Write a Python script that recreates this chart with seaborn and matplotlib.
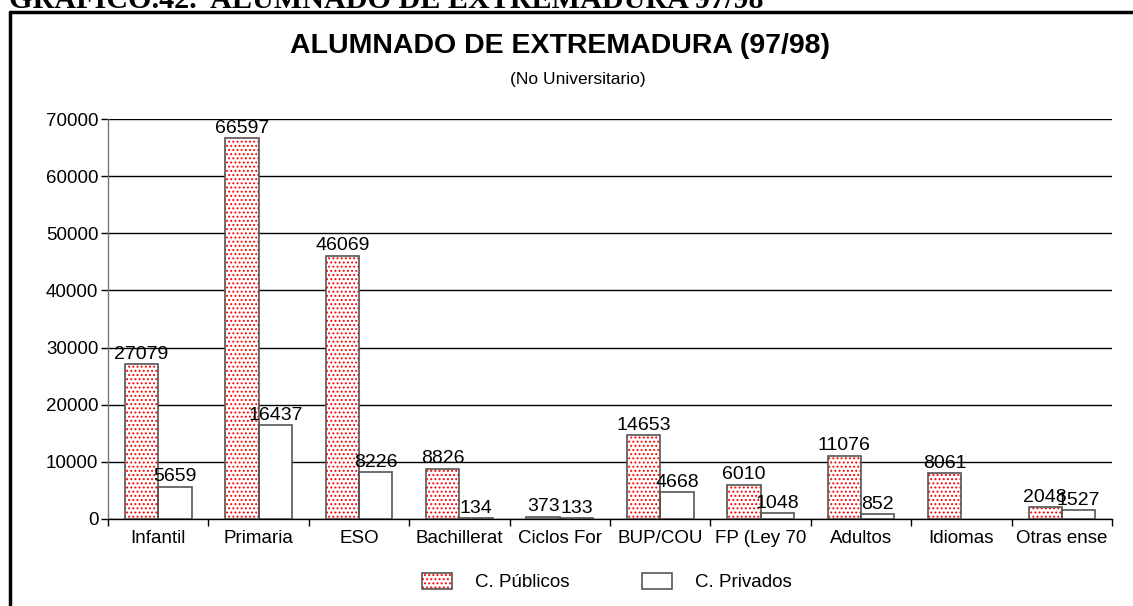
import matplotlib
matplotlib.use("Agg")
import matplotlib.pyplot as plt
from matplotlib.lines import Line2D
from matplotlib.patches import Patch
import numpy as np
import pandas as pd
import seaborn as sns

# Enrolment by level, 1997/98, non-university education in Extremadura
categories = ["Infantil", "Primaria", "ESO", "Bachillerat", "Ciclos For",
              "BUP/COU", "FP (Ley 70", "Adultos", "Idiomas", "Otras ense"]
publicos = [27079, 66597, 46069, 8826, 373, 14653, 6010, 11076, 8061, 2048]
privados = [5659, 16437, 8226, 134, 133, 4668, 1048, 852, np.nan, 1527]
series = ["C. Públicos", "C. Privados"]
yticks = list(range(0, 70001, 10000))

df = pd.DataFrame({
    "nivel": categories * 2,
    "centro": [series[0]] * len(categories) + [series[1]] * len(categories),
    "alumnos": publicos + privados,
}).dropna()

sns.set_theme(style="white")
plt.rcParams["font.family"] = ["Liberation Sans", "DejaVu Sans"]
plt.rcParams["hatch.linewidth"] = 0.9
for key in ["text.color", "axes.labelcolor", "xtick.color", "ytick.color"]:
    plt.rcParams[key] = "black"

FS = 13.5

fig = plt.figure(figsize=(11.33, 6.06), dpi=100)
ax = fig.add_axes([0.0953, 0.1436, 0.8862, 0.66])

edge = "#555555"
# dotted red fill for public centres (hatch only)
sns.barplot(data=df, x="nivel", y="alumnos", hue="centro", order=categories,
            hue_order=series, palette={series[0]: "white", series[1]: "white"},
            width=0.664, errorbar=None, legend=False, ax=ax, zorder=2,
            linewidth=0, edgecolor="red", saturation=1)
for bar in ax.containers[0]:
    bar.set_hatch("....")
    bar.set_edgecolor("red")
    bar.set_linewidth(0)
# outlines for all bars
sns.barplot(data=df, x="nivel", y="alumnos", hue="centro", order=categories,
            hue_order=series, fill=False, width=0.664, errorbar=None,
            legend=False, ax=ax, zorder=3, linewidth=1.2, edgecolor=edge)

for cont in ax.containers[2:4]:
    ax.bar_label(cont, labels=[f"{int(b.get_height())}" for b in cont],
                 padding=1, fontsize=14, color="black", zorder=4)

ax.set_ylim(0, 70000)
ax.set_xlim(-0.5, len(categories) - 0.5)
ax.set_yticks(yticks)
ax.set_yticklabels([str(v) for v in yticks], fontsize=FS)
ax.set_xticks(range(len(categories)))
ax.set_xticklabels(categories, fontsize=FS)
ax.set_xticks(np.arange(-0.5, len(categories)), minor=True)
ax.tick_params(axis="x", which="major", length=0, pad=8)
ax.tick_params(axis="x", which="minor", length=5, width=1, color="black",
               direction="out", bottom=True)
ax.tick_params(axis="y", length=5, width=1, color="black", direction="out",
               left=True, pad=2)
ax.set_xlabel("")
ax.set_ylabel("")
ax.yaxis.grid(True, color="black", linewidth=1)
ax.set_axisbelow(True)
for side in ["top", "right"]:
    ax.spines[side].set_visible(False)
ax.spines["left"].set_color("#777777")
ax.spines["bottom"].set_color("black")
ax.spines["left"].set_linewidth(1)
ax.spines["bottom"].set_linewidth(1)

# legend
pub_patch = Patch(facecolor="white", edgecolor="red", hatch="....", linewidth=0)
pub_outline = Patch(facecolor="none", edgecolor=edge, linewidth=1.2)
priv_patch = Patch(facecolor="white", edgecolor=edge, linewidth=1.2)
fig.legend(handles=[(pub_patch, pub_outline), priv_patch], labels=series,
           loc="center", bbox_to_anchor=(0.5356, 0.0396), ncol=2, frameon=False,
           fontsize=FS, handlelength=1.6, handleheight=1.0,
           handletextpad=1.2, columnspacing=3.9)

# titles
fig.text(0.494, 0.924, "ALUMNADO DE EXTREMADURA (97/98)", ha="center",
         va="center", fontsize=20.5, fontweight="bold")
fig.text(0.510, 0.868, "(No Universitario)", ha="center", va="center",
         fontsize=12.5)
fig.text(0.008, 1 - 8 / 606, "GRAFICO.42.  ALUMNADO DE EXTREMADURA 97/98",
         ha="left", va="baseline", fontsize=21.7, fontweight="bold",
         family=["Liberation Serif", "DejaVu Serif"])

# surrounding frame
fig.add_artist(Line2D([10 / 1133, 1], [1 - 12 / 606] * 2, color="black",
                      linewidth=2.5, transform=fig.transFigure))
fig.add_artist(Line2D([10 / 1133] * 2, [0, 1 - 12 / 606], color="black",
                      linewidth=2.5, transform=fig.transFigure))

fig.savefig("out.png", dpi=100)
